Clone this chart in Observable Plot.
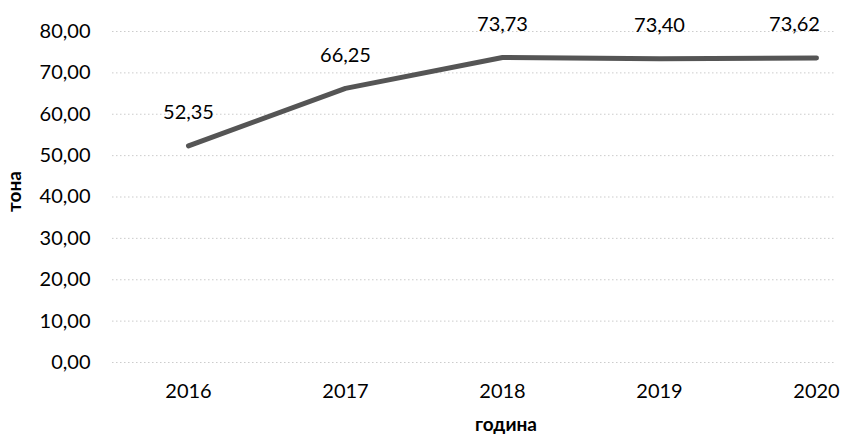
<!DOCTYPE html>
<html>
<head>
<meta charset="utf-8">
<script src="https://cdn.jsdelivr.net/npm/d3@7"></script>
<script src="https://cdn.jsdelivr.net/npm/@observablehq/plot@0.6"></script>
<style>
  html, body { margin: 0; padding: 0; background: #fff; }
  svg { display: block; }
</style>
</head>
<body>
<div id="chart"></div>
<script>
const years = ["2016", "2017", "2018", "2019", "2020"];
const values = [52.35, 66.25, 73.73, 73.40, 73.62];
const yTicks = [0, 10, 20, 30, 40, 50, 60, 70, 80];
const xTitle = "година";
const yTitle = "тона";

const data = years.map((y, i) => ({year: y, value: values[i]}));
const fmt = d => d.toFixed(2).replace(".", ",");
const font = "Lato, 'Open Sans', sans-serif";

const chart = Plot.plot({
  width: 845,
  height: 438,
  marginLeft: 112,
  marginRight: 10,
  marginTop: 31,
  marginBottom: 76,
  style: {fontFamily: font, fontSize: "20px", color: "#000", background: "#fff"},
  x: {type: "point", domain: years, padding: 0, insetLeft: 75, insetRight: 19},
  y: {domain: [0, 80]},
  marks: [
    Plot.gridY(yTicks, {stroke: "#999", strokeOpacity: 0.5, strokeDasharray: "1.5,2.5", strokeWidth: 1}),
    Plot.axisY(yTicks, {tickSize: 0, tickPadding: 22, tickFormat: fmt, label: null, fontSize: 20, fill: "#000"}),
    Plot.axisX(years, {tickSize: 0, tickPadding: 21, label: null, fontSize: 20, fill: "#000"}),
    Plot.line(data, {x: "year", y: "value", stroke: "#555", strokeWidth: 5, strokeLinecap: "round", strokeLinejoin: "round"}),
    Plot.text(data.slice(0, 4), {x: "year", y: "value", text: d => fmt(d.value), dy: -33, fontSize: 20, fill: "#000"}),
    Plot.text(data.slice(4), {x: "year", y: "value", text: d => fmt(d.value), dy: -33, dx: -22, fontSize: 20, fill: "#000"}),
    Plot.text([xTitle], {frameAnchor: "bottom", dy: 68, dx: 32, fontWeight: "bold", fontSize: 19, fill: "#000"}),
    Plot.text([yTitle], {frameAnchor: "left", dx: -98, dy: 15, rotate: -90, fontWeight: "bold", fontSize: 19, fill: "#000"})
  ]
});
document.getElementById("chart").appendChild(chart);
</script>
</body>
</html>
